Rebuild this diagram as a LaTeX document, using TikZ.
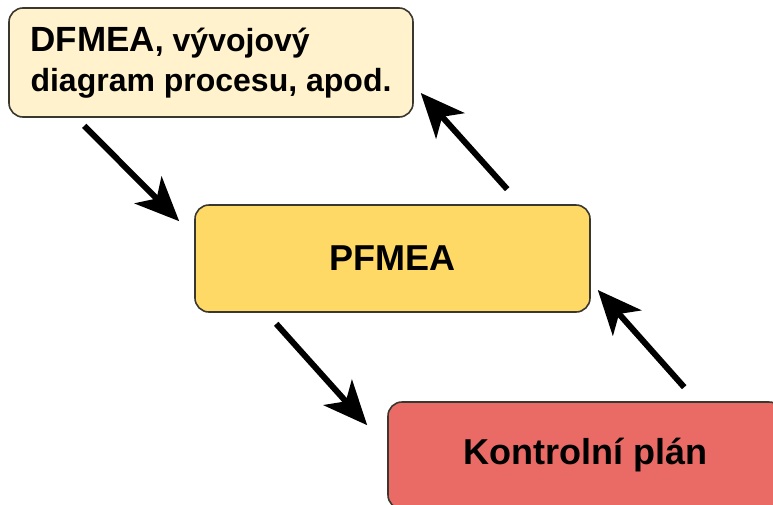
\documentclass[tikz,border=0pt]{standalone}
\usepackage{fontspec}
\setmainfont{Liberation Sans}
\usepackage{tikz}
\usetikzlibrary{arrows.meta,calc}

\definecolor{cream}{HTML}{FFF2CC}
\definecolor{gold}{HTML}{FFD966}
\definecolor{salmon}{HTML}{EA6B66}
\definecolor{rim}{HTML}{3A382E}

\begin{document}
\begin{tikzpicture}
        [x=1pt,y=-1pt,
         box/.style={draw=rim,line width=1.6pt,rounded corners=14pt,
           font=\bfseries\fontsize{36}{40}\selectfont,text=black},
         arr/.style={line width=6pt,-{Stealth[length=44pt,width=38pt,inset=12pt]}}]
        \useasboundingbox (0,0) rectangle (773,504);
        \clip (0,0) rectangle (773,504);

        \node[box,fill=cream,minimum width=404pt,minimum height=109pt,align=left,
              font=\bfseries\fontsize{32}{40}\selectfont] (dfmea) at (211,62.5)
              {{\fontsize{35}{40}\selectfont DFMEA}, vývojový\\diagram procesu, apod.};
        \node[box,fill=gold,minimum width=395pt,minimum height=107pt] (pfmea) at (392.5,258.5) {PFMEA};
        \node[box,fill=salmon,minimum width=395pt,minimum height=107pt] (kplan) at (585.5,455.5) {Kontrolní plán};

        \draw[arr] ($(dfmea.south west)+(76,8)$) -- ($(pfmea.north west)+(-15,17)$);
        \draw[arr] ($(pfmea.north west)+(313,-15)$) -- ($(dfmea.east)+(7,30.5)$);
        \draw[arr] ($(pfmea.south west)+(82,11)$) -- ($(kplan.north west)+(-20,24)$);
        \draw[arr] ($(kplan.north west)+(297,-14)$) -- ($(pfmea.east)+(7,31.5)$);

    \end{tikzpicture}
\end{document}
